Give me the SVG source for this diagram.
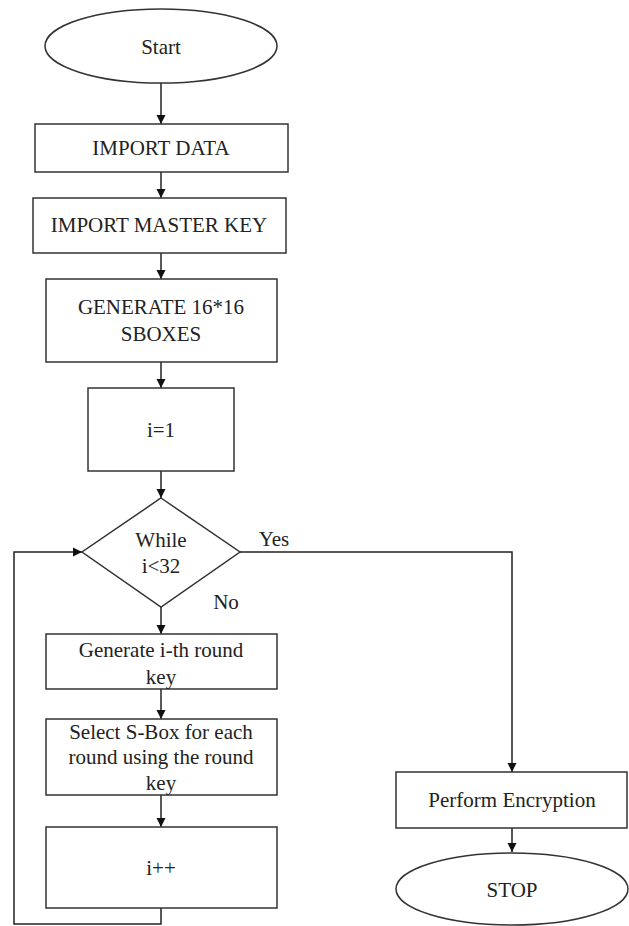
<svg xmlns="http://www.w3.org/2000/svg" width="629" height="926" viewBox="0 0 629 926">
<style>
.s{fill:#fff;stroke:#333;stroke-width:1.5}
.c{fill:none;stroke:#222;stroke-width:1.5}
text{font-family:"Liberation Serif","Times New Roman",serif;font-size:21px;fill:#222;text-anchor:middle;dominant-baseline:central}
</style>
<defs>
<marker id="a" markerWidth="10" markerHeight="10" refX="9" refY="5" orient="auto" markerUnits="userSpaceOnUse">
<path d="M0,0.5 L9,5 L0,9.5 Z" fill="#111"/>
</marker>
</defs>
<rect width="629" height="926" fill="#fff"/>
<g id="connectors">
<line class="c" x1="161" y1="83" x2="161" y2="124" marker-end="url(#a)"/>
<line class="c" x1="161" y1="172" x2="161" y2="198" marker-end="url(#a)"/>
<line class="c" x1="161" y1="253" x2="161" y2="279" marker-end="url(#a)"/>
<line class="c" x1="161" y1="362" x2="161" y2="388" marker-end="url(#a)"/>
<line class="c" x1="161" y1="471" x2="161" y2="498" marker-end="url(#a)"/>
<line class="c" x1="161" y1="607" x2="161" y2="634" marker-end="url(#a)"/>
<line class="c" x1="161" y1="689" x2="161" y2="719" marker-end="url(#a)"/>
<line class="c" x1="161" y1="795" x2="161" y2="827" marker-end="url(#a)"/>
<polyline class="c" points="161,908 161,924 14,924 14,552 82,552" marker-end="url(#a)"/>
<polyline class="c" points="240,552 512,552 512,772" marker-end="url(#a)"/>
<line class="c" x1="512" y1="828" x2="512" y2="852" marker-end="url(#a)"/>
<text x="274" y="539">Yes</text>
<text x="226" y="602">No</text>
</g>
<g id="start"><ellipse class="s" cx="161" cy="46" rx="116" ry="37"/><text x="161" y="47">Start</text></g>
<g id="import-data"><rect class="s" x="35" y="124" width="253" height="48"/><text x="161" y="148">IMPORT DATA</text></g>
<g id="import-key"><rect class="s" x="33" y="198" width="253" height="55"/><text x="159" y="225">IMPORT MASTER KEY</text></g>
<g id="gen-sboxes"><rect class="s" x="46" y="279" width="231" height="83"/><text x="161" y="307">GENERATE 16*16</text><text x="161" y="334">SBOXES</text></g>
<g id="init"><rect class="s" x="88" y="388" width="146" height="83"/><text x="161" y="430">i=1</text></g>
<g id="while"><polygon class="s" points="161,498 240,552 161,607 82,552"/><text x="161" y="540">While</text><text x="161" y="566">i&lt;32</text></g>
<g id="gen-key"><rect class="s" x="46" y="634" width="231" height="55"/><text x="161" y="650">Generate i-th round</text><text x="161" y="677">key</text></g>
<g id="select"><rect class="s" x="46" y="719" width="231" height="76"/><text x="161" y="732">Select S-Box for each</text><text x="161" y="757">round using the round</text><text x="161" y="783">key</text></g>
<g id="inc"><rect class="s" x="46" y="827" width="231" height="81"/><text x="161" y="868">i++</text></g>
<g id="encrypt"><rect class="s" x="396" y="772" width="231" height="56"/><text x="512" y="800">Perform Encryption</text></g>
<g id="stop"><ellipse class="s" cx="512" cy="889" rx="116" ry="36"/><text x="512" y="890">STOP</text></g>
</svg>
